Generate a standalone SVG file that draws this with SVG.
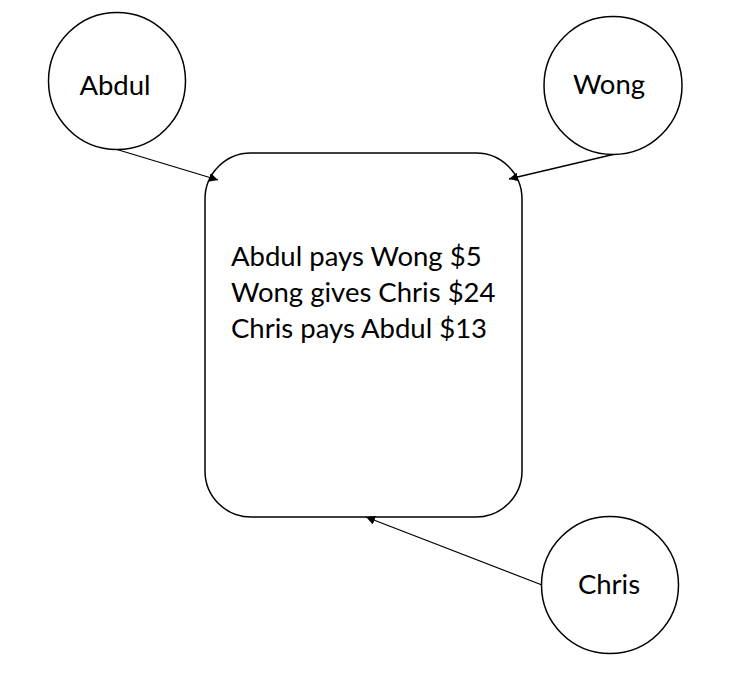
<svg xmlns="http://www.w3.org/2000/svg" width="734" height="684" viewBox="0 0 734 684">
<defs>
<style>
.shape{fill:#fff;stroke:#000;stroke-width:1.5}
.lbl{font-family:Lato,"Open Sans","Liberation Sans",sans-serif;font-size:27.5px;fill:#000}
.conn{stroke:#000;stroke-width:1.3;fill:none;marker-end:url(#ah)}
</style>
<marker id="ah" viewBox="0 0 10 10" refX="10" refY="5" markerWidth="9" markerHeight="9" markerUnits="userSpaceOnUse" orient="auto">
<path d="M0,0 L10,5 L0,10 z" fill="#000"/>
</marker>
</defs>
<rect width="734" height="684" fill="#fff"/>
<g id="ledger">
<rect class="shape" x="205" y="153" width="317" height="364" rx="46" ry="46"/>
<text class="lbl" x="231" y="266">Abdul pays Wong $5</text>
<text class="lbl" x="231" y="302">Wong gives Chris $24</text>
<text class="lbl" x="231" y="338">Chris pays Abdul $13</text>
</g>
<g id="abdul">
<circle class="shape" cx="117" cy="81" r="68.5"/>
<text class="lbl" x="115" y="95" text-anchor="middle">Abdul</text>
</g>
<g id="wong">
<circle class="shape" cx="613" cy="85.5" r="69"/>
<text class="lbl" x="609" y="94" text-anchor="middle">Wong</text>
</g>
<g id="chris">
<circle class="shape" cx="610" cy="585" r="68.5"/>
<text class="lbl" x="609" y="594" text-anchor="middle">Chris</text>
</g>
<g id="connectors">
<line class="conn" x1="117" y1="149.5" x2="218" y2="180"/>
<line class="conn" x1="613" y1="154.5" x2="509" y2="179"/>
<line class="conn" x1="542" y1="585" x2="366" y2="517"/>
</g>
</svg>
